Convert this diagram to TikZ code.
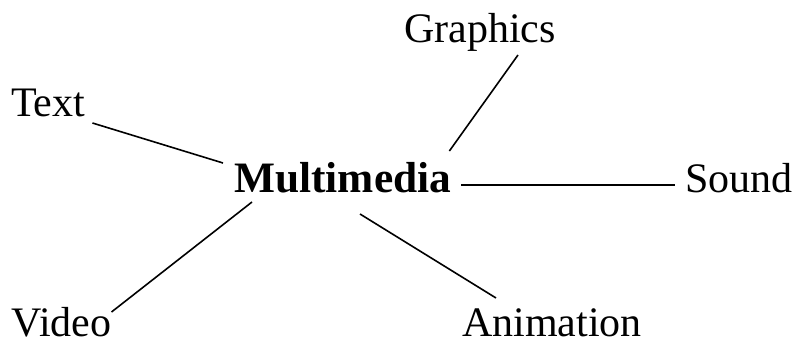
\documentclass[tikz,border=0pt]{standalone}
\usepackage{fontspec}
\setmainfont{Liberation Serif}
\usetikzlibrary{calc}
\begin{document}
\begin{tikzpicture}[x=1pt,y=-1pt,
  lbl/.style={inner sep=0pt,anchor=base west,font=\fontsize{42}{50}\selectfont},
  link/.style={line width=1.6pt}]
\useasboundingbox (0,0) rectangle (794,339);
\node[lbl] (t) at (11,117) {Text};
\node[lbl] (g) at (404,43) {Graphics};
\node[lbl,font=\fontsize{43.4}{50}\selectfont\bfseries] (m) at (234,192) {Multimedia};
\node[lbl] (s) at (685,192) {Sound};
\node[lbl] (v) at (11,336) {Video};
\node[lbl] (a) at (462,336) {Animation};
\draw[link] ($(t.base east)+(7,6)$) -- ($(m.base west)+(-11,-29)$);
\draw[link] ($(g.base west)+(114,12)$) -- ($(m.base east)+(-2,-41)$);
\draw[link] ($(m.base east)+(10,-7)$) -- ($(s.base west)+(-10,-7)$);
\draw[link] ($(m.base west)+(18,10)$) -- ($(v.base east)+(0,-24)$);
\draw[link] ($(m.base west)+(126,22)$) -- ($(a.base west)+(34,-38)$);
\end{tikzpicture}
\end{document}
